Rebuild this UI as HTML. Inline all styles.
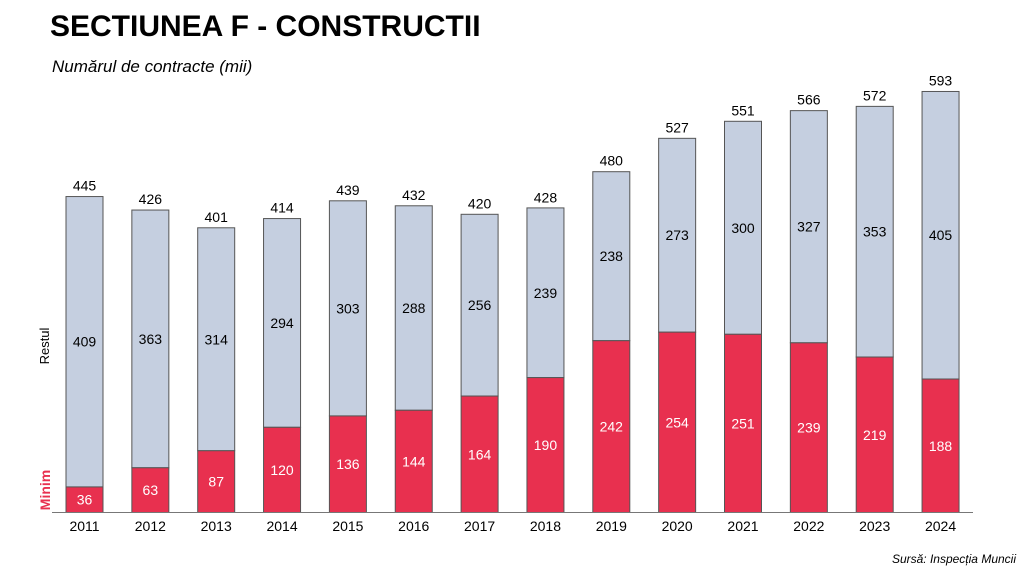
<!DOCTYPE html>
<html><head><meta charset="utf-8"><style>
body{margin:0;background:#fff;width:1024px;height:576px;overflow:hidden;font-family:"Liberation Sans",Arial,sans-serif}
</style></head><body>
<svg id="chart" width="1024" height="576" xmlns="http://www.w3.org/2000/svg">
<text x="50" y="36" font-size="30" font-weight="bold" fill="#000">SECTIUNEA F - CONSTRUCTII</text>
<text x="52" y="72" font-size="17" font-style="italic" fill="#000">Numărul de contracte (mii)</text>
<text x="1016" y="563" font-size="12" font-style="italic" fill="#000" text-anchor="end">Sursă: Inspecția Muncii</text>
<text transform="translate(49,346) rotate(-90)" font-size="13" fill="#000" text-anchor="middle">Restul</text>
<text transform="translate(50,490) rotate(-90)" font-size="14" font-weight="bold" fill="#e8304f" text-anchor="middle">Minim</text>
<g id="bars"></g>
<line x1="52" y1="512.5" x2="973" y2="512.5" stroke="#777" stroke-width="1"/>
</svg>
<script>
const years=["2011","2012","2013","2014","2015","2016","2017","2018","2019","2020","2021","2022","2023","2024"];
const minim=[36,63,87,120,136,144,164,190,242,254,251,239,219,188];
const restul=[409,363,314,294,303,288,256,239,238,273,300,327,353,405];
const totals=[445,426,401,414,439,432,420,428,480,527,551,566,572,593];
const NS="http://www.w3.org/2000/svg";
const base=512.5, scale=0.71, x0=66, step=65.85, bw=37;
const xPos=i=>x0+i*step;
const yPos=v=>base-v*scale;
const g=document.getElementById('bars');
function mk(tag,attrs){const e=document.createElementNS(NS,tag);for(const k in attrs)e.setAttribute(k,attrs[k]);return e;}
years.forEach((yr,i)=>{
  const x=xPos(i);
  const yM=yPos(minim[i]), yT=yPos(minim[i]+restul[i]);
  const r1=mk('rect',{x:x,y:yT,width:bw,height:yM-yT,fill:'#c5cfe0',stroke:'#555','stroke-width':1});
  
  
  g.appendChild(r1);
  const r2=mk('rect',{x:x,y:yM,width:bw,height:base-yM,fill:'#e8304f',stroke:'#555','stroke-width':1});
  
  
  g.appendChild(r2);
  const cx=x+bw/2;
  const t1=mk('text',{x:cx,y:(yT+yM)/2+5,'font-size':14,'text-anchor':'middle',fill:'#000'});
  t1.textContent=restul[i];
  
  
  g.appendChild(t1);
  const t2=mk('text',{x:cx,y:(yM+base)/2+5,'font-size':14,'text-anchor':'middle',fill:'#fff'});
  t2.textContent=minim[i];
  
  
  g.appendChild(t2);
  const t3=mk('text',{x:cx,y:yPos(totals[i])-6,'font-size':14,'text-anchor':'middle',fill:'#000'});
  t3.textContent=totals[i];
  
  
  g.appendChild(t3);
  const t4=mk('text',{x:cx,y:531,'font-size':14,'text-anchor':'middle',fill:'#000'});
  t4.textContent=yr;
  
  
  g.appendChild(t4);
});
</script>
</body></html>
